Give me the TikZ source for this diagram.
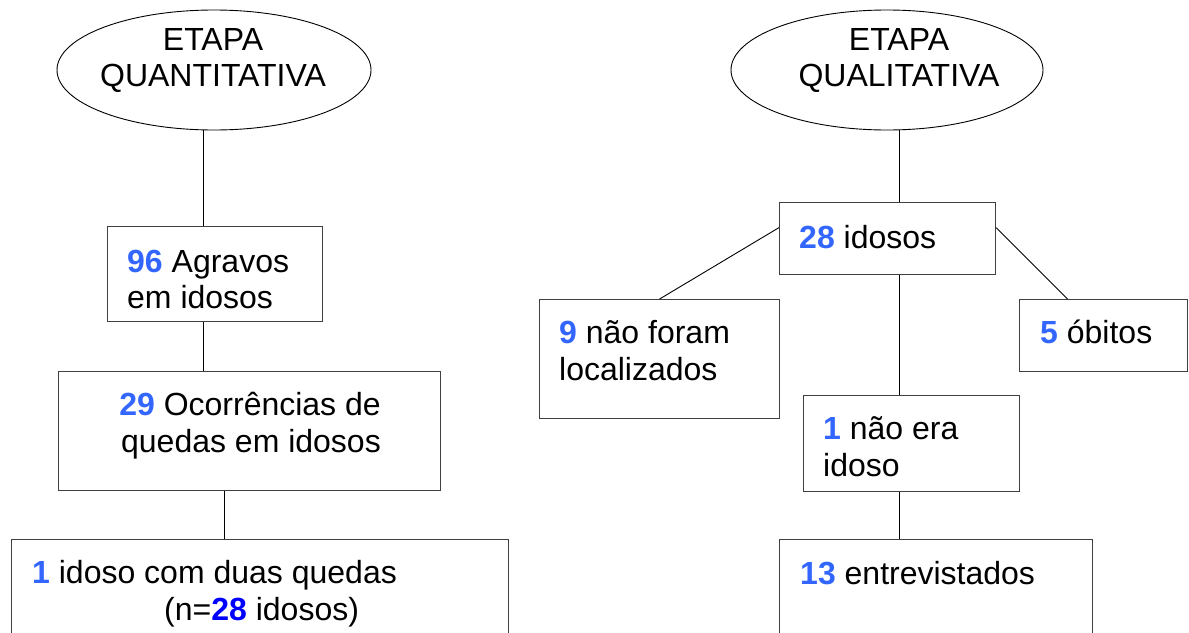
\documentclass[tikz,border=0pt]{standalone}
\usepackage{fontspec}
\setmainfont{Liberation Sans}
\usetikzlibrary{shapes.geometric}
\definecolor{numblue}{HTML}{3366FF}
\definecolor{deepblue}{HTML}{0000FF}
\definecolor{boxgray}{HTML}{404040}
\newcommand{\nb}[1]{\textbf{\color{numblue}#1}}
\begin{document}
\begin{tikzpicture}[x=1pt,y=-1pt,
  box/.style={draw=boxgray,line width=1.2pt,inner sep=0pt,anchor=north west},
  oval/.style={draw=black,line width=0.9pt,ellipse,inner sep=0pt},
  conn/.style={draw=black,line width=0.9pt},
  txt/.style={anchor=base west,inner sep=0pt,font=\fontsize{32}{37}\selectfont},
  ctxt/.style={anchor=base,inner sep=0pt,font=\fontsize{32}{37}\selectfont},
]
\useasboundingbox (0,0) rectangle (1189,632);
\clip (0,0) rectangle (1189,632);
\fill[white] (0,0) rectangle (1189,632);

% ellipses
\node[oval,minimum width=314pt,minimum height=120pt] (eL) at (214,70) {};
\node[oval,minimum width=312pt,minimum height=120pt] (eR) at (887,70) {};
\node[ctxt] (eLa) at (213,50) {ETAPA};
\node[ctxt] (eLb) at (213,86) {QUANTITATIVA};
\node[ctxt] (eRa) at (899,50) {ETAPA};
\node[ctxt] (eRb) at (899,86) {QUALITATIVA};

% boxes
\node[box,minimum width=215pt,minimum height=95pt] (b96) at (107,226) {};
\node[box,minimum width=382pt,minimum height=119pt] (b29) at (58,371) {};
\node[box,minimum width=497pt,minimum height=130pt] (bq) at (11,539) {};
\node[box,minimum width=216pt,minimum height=72pt] (b28) at (779,202) {};
\node[box,minimum width=240pt,minimum height=119pt] (b9) at (539,299) {};
\node[box,minimum width=168pt,minimum height=72pt] (b5) at (1019,299) {};
\node[box,minimum width=216pt,minimum height=96pt] (b1) at (803,395) {};
\node[box,minimum width=313pt,minimum height=130pt] (b13) at (779,539) {};

% texts
\node[txt] (t96a) at (127,272) {\nb{96} Agravos};
\node[txt] (t96b) at (127,308) {em idosos};
\node[ctxt] (t29a) at (250,415) {\nb{29} Ocorrências de};
\node[ctxt] (t29b) at (251,452) {quedas em idosos};
\node[txt] (tqa) at (32,583) {\nb{1} idoso com duas quedas};
\node[txt] (tqb) at (164,620) {(n=\textbf{\color{deepblue}28} idosos)};
\node[txt] (t28) at (799,248) {\nb{28} idosos};
\node[txt] (t9a) at (559,343) {\nb{9} não foram};
\node[txt] (t9b) at (559,380) {localizados};
\node[txt] (t5) at (1040,343) {\nb{5} óbitos};
\node[txt] (t1a) at (823,439) {\nb{1} não era};
\node[txt] (t1b) at (823,476) {idoso};
\node[txt] (t13) at (800,584) {\nb{13} entrevistados};

% connectors
\coordinate (xL1) at (203,0);
\coordinate (xL2) at (224,0);
\coordinate (xR) at (899,0);
\draw[conn] (eL.south -| xL1) -- (b96.north -| xL1);
\draw[conn] (b96.south -| xL1) -- (b29.north -| xL1);
\draw[conn] (b29.south -| xL2) -- (bq.north -| xL2);
\draw[conn] (eR.south -| xR) -- (b28.north -| xR);
\draw[conn] ([yshift=11pt]b28.west) -- (b9.north);
\draw[conn] ([yshift=11pt]b28.east) -- ([xshift=-36pt]b5.north);
\draw[conn] (b28.south -| xR) -- (b1.north -| xR);
\draw[conn] (b1.south -| xR) -- (b13.north -| xR);
\end{tikzpicture}
\end{document}
